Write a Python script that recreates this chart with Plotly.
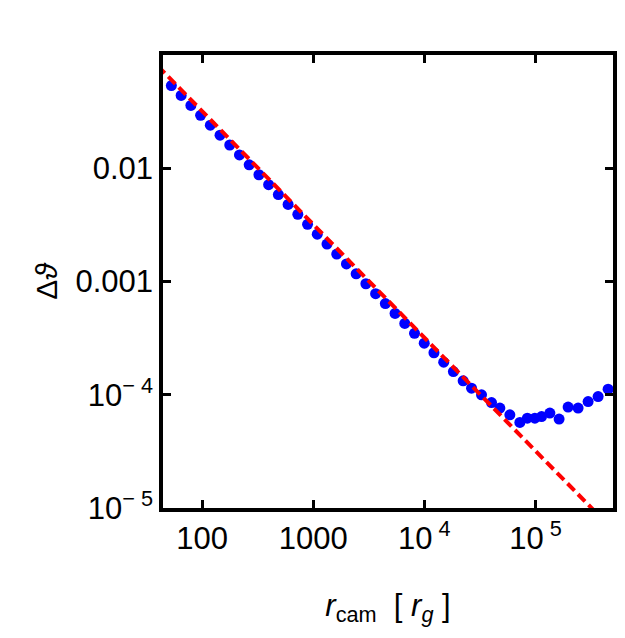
import plotly.graph_objects as go

# Data points (r_cam in r_g, delta theta)
r_points = [53.0, 64.9, 79.4, 97.1, 118.8, 145.3, 177.7, 217.3, 265.8, 325.2,
            397.7, 486.5, 595.1, 727.9, 890.4, 1089, 1332, 1630, 1993, 2438,
            2983, 3648, 4463, 5459, 6677, 8167, 9991, 12220, 14950, 18280,
            22370, 26610, 32730, 40270, 47860, 58880, 72440, 84560, 98860, 113500,
            134900, 163300, 196800, 242100, 297900, 366400, 450800]
dtheta_points = [0.05377, 0.04391, 0.03589, 0.02935, 0.02399, 0.01961, 0.01604, 0.01312, 0.01072, 0.008764,
                 0.007166, 0.005858, 0.004789, 0.003915, 0.003201, 0.002617, 0.002140, 0.001748, 0.001430, 0.001169,
                 0.0009554, 0.0007812, 0.0006386, 0.0005221, 0.0004268, 0.0003490, 0.0002853, 0.0002349, 0.0001940, 0.0001603,
                 0.0001328, 0.0001143, 0.0000998, 0.0000853, 0.0000762, 0.0000665, 0.0000569, 0.0000621, 0.0000621, 0.0000642,
                 0.0000689, 0.0000610, 0.0000778, 0.0000762, 0.0000871, 0.0000964, 0.0001119]

# Reference power-law line (endpoints)
r_line = [40.0, 600000.0]
dtheta_line = [0.080, 0.00000533]

x_tickvals = [100, 1000, 10000, 100000]
x_ticktext = ["100", "1000", "10<sup> 4</sup>", "10<sup> 5</sup>"]
y_tickvals = [0.01, 0.001, 0.0001, 0.00001]
y_ticktext = ["0.01", "0.001", "10<sup>− 4</sup>", "10<sup>− 5</sup>"]

FONT = "Liberation Sans, Arial, Helvetica, sans-serif"

fig = go.Figure()
fig.add_trace(go.Scatter(x=r_points, y=dtheta_points, mode="markers",
                         marker=dict(color="#0000ff", size=11, line=dict(width=0)),
                         showlegend=False))
fig.add_trace(go.Scatter(x=r_line, y=dtheta_line, mode="lines",
                         line=dict(color="#ff0000", width=4, dash="10px,5px"),
                         showlegend=False))

axis_common = dict(showline=True, linecolor="black", linewidth=3.5, mirror="allticks",
                   ticks="inside", ticklen=8, tickwidth=3, tickcolor="black",
                   showgrid=False, zeroline=False, layer="above traces",
                   tickfont=dict(family=FONT, size=31, color="black"))

fig.update_xaxes(type="log", range=[1.649, 5.698], tickmode="array",
                 tickvals=x_tickvals, ticktext=x_ticktext,
                 title=dict(text="<i>r</i><sub>cam</sub>  [ <i>r<sub>g</sub></i> ]",
                            font=dict(family=FONT, size=31, color="black"), standoff=40),
                 **axis_common)
fig.update_yaxes(type="log", range=[-5, -1], tickmode="array",
                 tickvals=y_tickvals, ticktext=y_ticktext,
                 title=dict(text="Δ<i>ϑ</i>", font=dict(family=FONT, size=30, color="black"), standoff=10),
                 **axis_common)

fig.update_layout(width=625, height=638, margin=dict(l=163, r=12, t=55, b=130, autoexpand=False),
                  paper_bgcolor="white", plot_bgcolor="white",
                  font=dict(family=FONT, color="black"))

fig.write_html("out.html")
